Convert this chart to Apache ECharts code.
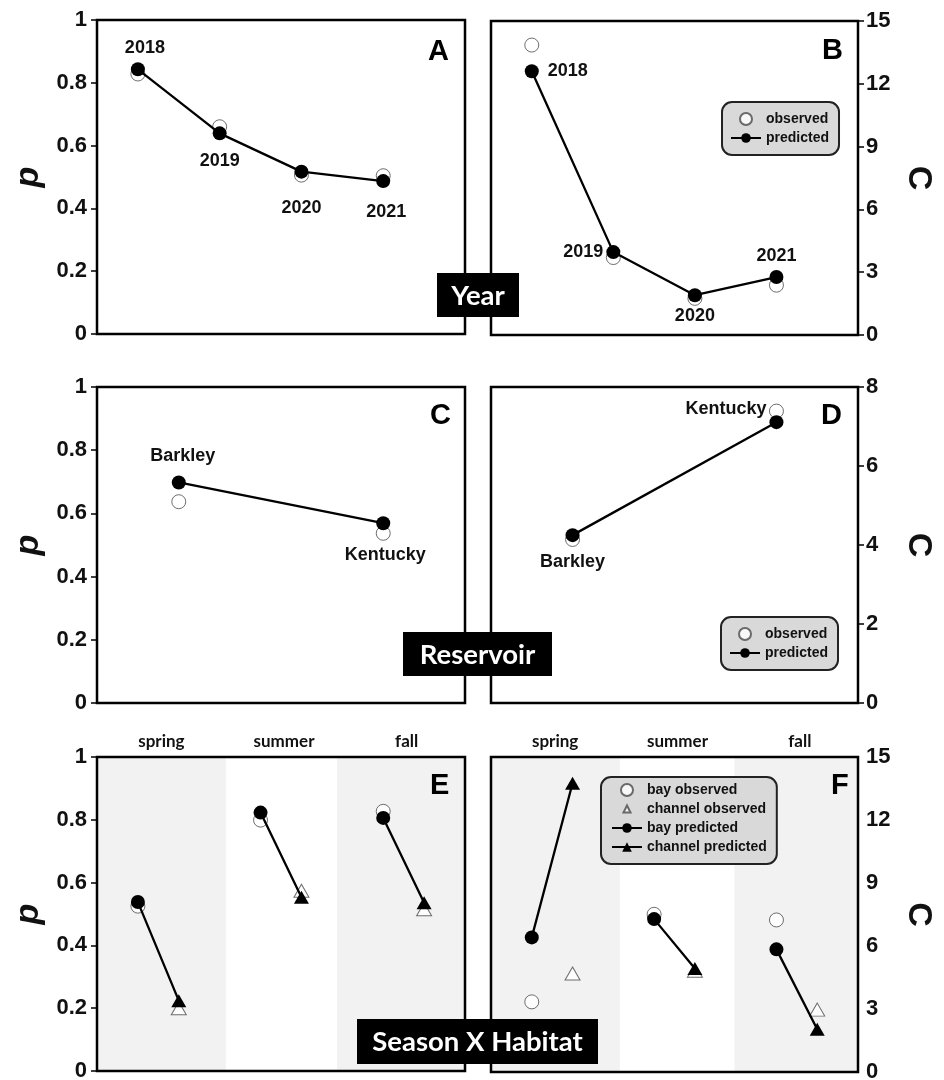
<!DOCTYPE html>
<html><head><meta charset="utf-8">
<script src="https://cdn.jsdelivr.net/npm/echarts@6/dist/echarts.min.js"></script>
<style>html,body{margin:0;padding:0;background:#fff}#c{width:944px;height:1080px}</style>
</head><body><div id="c"></div>
<script>
// ---------------- data ----------------
const years = ['2018', '2019', '2020', '2021'];
const yearPos = [1, 2, 3, 4];
const pObsYear = [0.828, 0.660, 0.506, 0.504];
const pPredYear = [0.843, 0.639, 0.517, 0.487];
const cObsYear = [13.85, 3.70, 1.75, 2.38];
const cPredYear = [12.60, 3.96, 1.90, 2.77];

const reservoirs = ['Barkley', 'Kentucky'];
const reservoirPos = [1.5, 4];
const pObsRes = [0.637, 0.537];
const pPredRes = [0.698, 0.569];
const cObsRes = [4.14, 7.39];
const cPredRes = [4.25, 7.11];

const seasons = ['spring', 'summer', 'fall'];
const bayPos = [1, 4, 7];
const channelPos = [2, 5, 8];
const pBayObs = [0.525, 0.799, 0.827];
const pBayPred = [0.538, 0.823, 0.806];
const pChObs = [0.200, 0.574, 0.515];
const pChPred = [0.224, 0.553, 0.536];
const cBayObs = [3.34, 7.51, 7.24];
const cBayPred = [6.41, 7.28, 5.84];
const cChObs = [4.69, 4.82, 2.97];
const cChPred = [13.75, 4.93, 2.04];

const pTicks = [0, 0.2, 0.4, 0.6, 0.8, 1];
const cTicksYear = [0, 3, 6, 9, 12, 15];
const cTicksRes = [0, 2, 4, 6, 8];
const cTicksSeason = [0, 3, 6, 9, 12, 15];

const panelLetters = ['A', 'B', 'C', 'D', 'E', 'F'];
const factorTags = ['Year', 'Reservoir', 'Season X Habitat'];
const legendSimple = ['observed', 'predicted'];
const legendSeason = ['bay observed', 'channel observed', 'bay predicted', 'channel predicted'];

// ---------------- styling / layout ----------------
const FONT = '"Liberation Sans", Arial, sans-serif';
const LATO = 'Lato, "Open Sans", sans-serif';

const gridRects = [
  {left: 97, top: 20, width: 368, height: 314},
  {left: 491, top: 21, width: 367, height: 314},
  {left: 97, top: 387, width: 368, height: 316},
  {left: 491, top: 387, width: 367, height: 316},
  {left: 97, top: 757, width: 368, height: 314},
  {left: 491, top: 757, width: 367, height: 315}
];
const grids = gridRects.map(g => Object.assign({
  show: true, borderColor: '#000', borderWidth: 2.5, backgroundColor: 'transparent',
  z: 5, containLabel: false, outerBoundsMode: 'none'
}, g));

function hiddenX(gi, min, max) {
  return {type: 'value', gridIndex: gi, min, max, show: false, splitLine: {show: false}};
}
function seasonAxis(gi) {
  return {
    type: 'category', gridIndex: gi, position: 'top', data: seasons, boundaryGap: true,
    axisLine: {show: false}, axisTick: {show: false}, splitLine: {show: false},
    axisLabel: {show: true, margin: 7, fontFamily: LATO, fontWeight: 'bold', fontSize: 17, color: '#111',
      padding: [0, 0, 0, 6]}
  };
}
const xAxes = [
  hiddenX(0, 0.5, 5), hiddenX(1, 0.5, 5), hiddenX(2, 0.5, 5), hiddenX(3, 0.5, 5),
  hiddenX(4, 0, 9), hiddenX(5, 0, 9), seasonAxis(4), seasonAxis(5)
];

function yAx(gi, ticks, side, name) {
  const left = side === 'left';
  return {
    type: 'value', gridIndex: gi, position: side,
    min: ticks[0], max: ticks[ticks.length - 1], interval: ticks[1] - ticks[0],
    axisLine: {show: false},
    axisTick: {show: true, inside: false, length: 6, lineStyle: {color: '#000', width: 1.5}},
    splitLine: {show: false},
    axisLabel: {margin: left ? 10 : 8, fontFamily: FONT, fontWeight: 'bold', fontSize: 22, color: '#111',
      showMinLabel: true, showMaxLabel: true},
    name: name, nameLocation: 'middle', nameGap: left ? 51 : 43, nameRotate: left ? 90 : -90,
    nameTextStyle: {fontFamily: FONT, fontWeight: 'bold', fontStyle: left ? 'italic' : 'normal',
      fontSize: 34, color: '#111'}
  };
}
const yAxes = [
  yAx(0, pTicks, 'left', 'p'), yAx(1, cTicksYear, 'right', 'C'),
  yAx(2, pTicks, 'left', 'p'), yAx(3, cTicksRes, 'right', 'C'),
  yAx(4, pTicks, 'left', 'p'), yAx(5, cTicksSeason, 'right', 'C')
];

const obsStyle = {color: '#fff', borderColor: '#4a4a4a', borderWidth: 1};
const series = [];

function addObs(name, ai, xs, ys, symbol, size) {
  series.push({
    type: 'scatter', name, xAxisIndex: ai, yAxisIndex: ai,
    data: xs.map((x, i) => [x, ys[i]]), symbol, symbolSize: size,
    itemStyle: obsStyle, z: 2, emphasis: {disabled: true}, silent: true
  });
}
function addPred(name, ai, xs, ys, cats, labels) {
  series.push({
    type: 'line', name, xAxisIndex: ai, yAxisIndex: ai,
    data: xs.map((x, i) => ({name: cats[i], value: [x, ys[i]],
      label: Object.assign({show: true, formatter: '{b}'}, labels[i])})),
    symbol: 'circle', symbolSize: 14, showSymbol: true,
    itemStyle: {color: '#000'}, lineStyle: {color: '#000', width: 2.3},
    label: {fontFamily: FONT, fontWeight: 'bold', fontSize: 18, color: '#111'},
    z: 3, emphasis: {disabled: true}, silent: true
  });
}

// Panel A
addObs('observed', 0, yearPos, pObsYear, 'circle', 14);
addPred('predicted', 0, yearPos, pPredYear, years, [
  {position: 'top', distance: 5, offset: [7, 0]},
  {position: 'bottom', distance: 12},
  {position: 'bottom', distance: 20},
  {position: 'bottom', distance: 15, offset: [3, 0]}
]);
// Panel B
addObs('observed', 1, yearPos, cObsYear, 'circle', 14);
addPred('predicted', 1, yearPos, cPredYear, years, [
  {position: 'right', distance: 9},
  {position: 'left', distance: 3},
  {position: 'bottom', distance: 5},
  {position: 'top', distance: 5}
]);
// Panel C
addObs('observed', 2, reservoirPos, pObsRes, 'circle', 14);
addPred('predicted', 2, reservoirPos, pPredRes, reservoirs, [
  {position: 'top', distance: 10, offset: [4, 0]},
  {position: 'bottom', distance: 16, offset: [2, 0]}
]);
// Panel D
addObs('observed', 3, reservoirPos, cObsRes, 'circle', 14);
addPred('predicted', 3, reservoirPos, cPredRes, reservoirs, [
  {position: 'bottom', distance: 11},
  {position: 'left', distance: 3, offset: [0, -13]}
]);

// Panels E & F
function seasonPanel(ai, bayObs, chObs, bayPred, chPred, band) {
  series.push({
    type: 'scatter', xAxisIndex: ai, yAxisIndex: ai, data: [], z: 1, silent: true,
    markArea: {silent: true, itemStyle: {color: '#f2f2f2'},
      data: [[{xAxis: 0}, {xAxis: band[0]}], [{xAxis: band[1]}, {xAxis: 9}]]}
  });
  addObs('bay observed', ai, bayPos, bayObs, 'circle', 14);
  addObs('channel observed', ai, channelPos, chObs, 'triangle', [15, 13]);
  const bayData = [], chData = [];
  seasons.forEach((s, i) => {
    if (i > 0) { bayData.push([bayPos[i] - 1, '-']); chData.push([bayPos[i] - 1, '-']); }
    bayData.push({value: [bayPos[i], bayPred[i]]});
    bayData.push({value: [channelPos[i], chPred[i]], symbol: 'none'});
    chData.push({value: [channelPos[i], chPred[i]]});
  });
  series.push({
    type: 'line', name: 'bay predicted', xAxisIndex: ai, yAxisIndex: ai, data: bayData,
    symbol: 'circle', symbolSize: 14, showSymbol: true, connectNulls: false,
    itemStyle: {color: '#000'}, lineStyle: {color: '#000', width: 2.3},
    z: 3, emphasis: {disabled: true}, silent: true
  });
  series.push({
    type: 'line', name: 'channel predicted', xAxisIndex: ai, yAxisIndex: ai, data: chData,
    symbol: 'triangle', symbolSize: [15, 13], showSymbol: true, connectNulls: false,
    itemStyle: {color: '#000'}, lineStyle: {color: '#000', width: 2.3},
    z: 4, emphasis: {disabled: true}, silent: true
  });
}
seasonPanel(4, pBayObs, pChObs, pBayPred, pChPred, [3.15, 5.87]);
seasonPanel(5, cBayObs, cChObs, cBayPred, cChPred, [3.16, 5.97]);

// Legends
const smallTriangle = 'path://M6,2.5L9.5,9.5L2.5,9.5Z M0,0 M12,12';
function mkLegend(names, left, top, pad) {
  return {
    show: true, orient: 'vertical', left, top,
    data: names.map(n => n === 'channel observed' ? {name: n, icon: smallTriangle} : {name: n}),
    itemWidth: 30, itemHeight: 12, itemGap: 5, padding: pad,
    backgroundColor: '#d9d9d9', borderColor: '#222', borderWidth: 2, borderRadius: 10,
    selectedMode: false, z: 10,
    textStyle: {fontFamily: FONT, fontWeight: 'bold', fontSize: 14, color: '#111'}
  };
}
const legends = [
  mkLegend(legendSimple, 722, 102, [10, 10, 10, 8]),
  mkLegend(legendSimple, 721, 617, [10, 10, 10, 8]),
  mkLegend(legendSeason, 601, 777, [6, 10, 10, 10])
];

// Panel letters
const letterPos = [[428, 37], [822, 36], [430, 401], [821, 401], [430, 771], [831, 771]];
const titles = panelLetters.map((t, i) => ({
  text: t, left: letterPos[i][0], top: letterPos[i][1], padding: 0,
  textStyle: {fontFamily: FONT, fontWeight: 'bold', fontSize: 29, color: '#000'}
}));

// Factor tags (black boxes)
const tagBoxes = [[437, 273, 82, 44], [403, 632, 149, 44], [357, 1019, 241, 45]];
const graphics = factorTags.map((t, i) => {
  const [x, y, w, h] = tagBoxes[i];
  return {
    type: 'group', z: 100, children: [
      {type: 'rect', shape: {x, y, width: w, height: h}, style: {fill: '#000'}, z: 100},
      {type: 'text', x: x + w / 2, y: y + h / 2 + 1, z: 101,
        style: {text: t, fill: '#fff', fontFamily: LATO, fontWeight: 'bold', fontSize: 27.5,
          align: 'center', verticalAlign: 'middle'}}
    ]
  };
});

const chart = echarts.init(document.getElementById('c'), null, {renderer: 'canvas'});
chart.setOption({
  animation: false,
  backgroundColor: '#fff',
  title: titles,
  grid: grids,
  xAxis: xAxes,
  yAxis: yAxes,
  legend: legends,
  series: series,
  graphic: graphics
});
</script>
</body></html>
